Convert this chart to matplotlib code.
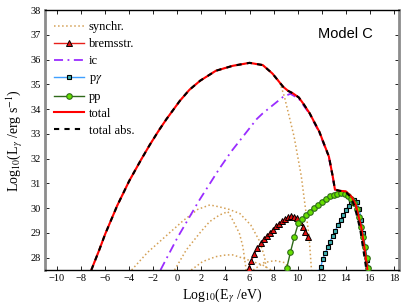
import matplotlib
matplotlib.use("Agg")
import matplotlib.pyplot as plt

# ---------------- data ----------------
total_x = [-7.15, -6.5, -6.0, -5.0, -4.0, -3.0, -2.3, -1.5, -0.9, 0.2, 1.0, 1.9, 3.2, 4.6, 6.0,
           7.1, 7.9, 8.3, 8.8, 9.2, 9.6, 10.1, 10.5, 11.0, 11.8, 12.6, 12.95, 13.1, 13.5, 14.0,
           14.5, 14.85, 15.3, 15.55, 15.8]
total_y = [27.5, 28.3, 28.95, 30.1, 31.1, 31.97, 32.55, 33.17, 33.6, 34.33, 34.78, 35.15, 35.55, 35.75, 35.87,
           35.78, 35.44, 35.2, 34.9, 34.74, 34.64, 34.47, 34.2, 33.83, 33.09, 32.08, 31.2, 30.75, 30.7, 30.68,
           30.45, 30.1, 29.2, 28.4, 27.5]

totabs_x = [-7.15, -6.5, -6.0, -5.0, -4.0, -3.0, -2.3, -1.5, -0.9, 0.2, 1.0, 1.9, 3.2, 4.6, 6.0,
            7.1, 7.9, 8.3, 8.8, 9.2, 9.6, 10.1, 10.5, 11.0, 11.8, 12.6, 12.95, 13.1, 13.5, 14.0,
            14.4, 14.75, 15.2, 15.45, 15.72]
totabs_y = [27.5, 28.3, 28.95, 30.1, 31.1, 31.97, 32.55, 33.17, 33.6, 34.33, 34.78, 35.15, 35.55, 35.75, 35.87,
            35.78, 35.44, 35.2, 34.9, 34.74, 34.64, 34.47, 34.2, 33.83, 33.09, 32.08, 31.2, 30.75, 30.7, 30.66,
            30.45, 30.05, 29.15, 28.35, 27.5]

# synchrotron components
syn1_x = [-7.15, -6.0, -5.0, -4.0, -3.0, -2.3, -0.9, 0.2, 1.0, 1.9, 3.2, 4.6, 6.0, 7.1, 7.9,
          8.5, 8.9, 9.3, 9.7, 10.0, 10.3, 10.7, 10.95, 11.15]
syn1_y = [27.5, 28.95, 30.1, 31.1, 31.97, 32.55, 33.6, 34.33, 34.78, 35.15, 35.55, 35.75, 35.87, 35.78, 35.44,
          35.1, 34.5, 33.7, 32.9, 32.1, 31.3, 29.8, 28.85, 27.5]
syn2_x = [-3.8, -2.5, -1.0, 0.5, 1.7, 2.7, 3.5, 4.3, 5.2, 6.1, 6.8, 7.25, 7.4]
syn2_y = [27.5, 28.2, 28.85, 29.5, 29.95, 30.13, 30.05, 29.95, 29.78, 29.32, 28.7, 28.04, 27.5]
syn3_x = [-0.23, 0.74, 1.84, 2.67, 3.5, 4.2, 4.6, 5.16, 5.45, 5.72]
syn3_y = [27.5, 28.31, 28.98, 29.45, 29.72, 29.86, 29.52, 28.98, 28.44, 27.5]
syn4_x = [1.15, 2.1, 3.2, 4.06, 4.6, 5.44, 6.27, 7.1, 7.8]
syn4_y = [27.5, 27.84, 28.04, 28.11, 28.11, 27.98, 27.84, 27.7, 27.5]
syn5_x = [6.3, 7.2, 8.1, 8.9, 9.5]
syn5_y = [27.5, 27.8, 27.88, 27.8, 27.5]

# inverse Compton
ic_x = [-1.4, 0.0, 1.8, 3.5, 4.5, 6.6, 7.1, 8.8, 9.4, 10.1, 11.0, 11.8, 12.6, 12.95, 13.1]
ic_y = [27.5, 28.8, 30.3, 31.6, 32.3, 33.6, 33.83, 34.5, 34.62, 34.42, 33.8, 33.05, 32.05, 31.15, 30.7]

# bremsstrahlung
brem_x = [5.93, 6.15, 6.4, 6.65, 6.95, 7.2, 7.45, 7.7, 7.95, 8.2, 8.45, 8.7, 8.95, 9.2, 9.45,
          9.7, 9.95, 10.2, 10.45, 10.65, 10.83]
brem_y = [27.6, 27.85, 28.15, 28.37, 28.58, 28.75, 28.88, 29.0, 29.13, 29.26, 29.37, 29.48, 29.57, 29.63, 29.67,
          29.66, 29.6, 29.45, 29.25, 29.05, 28.82]

# p-gamma
pg_x = [11.78, 11.94, 12.08, 12.3, 12.5, 12.69, 12.91, 13.13, 13.35, 13.57, 13.8, 14.02, 14.24, 14.46,
        14.68, 14.9, 15.12, 15.29, 15.45, 15.62, 15.79, 15.87]
pg_y = [27.5, 27.64, 27.94, 28.18, 28.42, 28.65, 28.88, 29.09, 29.32, 29.52, 29.72, 29.92, 30.1, 30.25,
        30.33, 30.25, 29.95, 29.52, 28.98, 28.44, 27.9, 27.57]

# p-p
pp_x = [9.09, 9.4, 9.73, 10.06, 10.36, 10.69, 11.02, 11.35, 11.68, 12.01, 12.34, 12.67, 13.0, 13.3,
        13.6, 13.9, 14.2, 14.45, 14.7, 14.92, 15.12, 15.28, 15.45, 15.6, 15.74, 15.84]
pp_y = [27.57, 28.22, 28.85, 29.39, 29.55, 29.72, 29.86, 30.0, 30.13, 30.26, 30.38, 30.47, 30.54, 30.58,
        30.6, 30.58, 30.5, 30.38, 30.2, 29.98, 29.66, 29.25, 28.85, 28.44, 27.97, 27.6]

xticks = list(range(-10, 19, 2))
yticks = list(range(28, 39))

# ---------------- plot ----------------
plt.rcParams['font.family'] = ['Liberation Serif', 'DejaVu Serif']
plt.rcParams['mathtext.fontset'] = 'stix'

fig = plt.figure(figsize=(4.07, 3.07), dpi=100)
ax = fig.add_axes([0.1106, 0.1205, 0.869, 0.8465])

syn_col = '#d4a055'
ax.plot(syn1_x, syn1_y, ls=':', color=syn_col, lw=1.1, label='synchr.', zorder=1)
for sx, sy in [(syn2_x, syn2_y), (syn3_x, syn3_y), (syn4_x, syn4_y), (syn5_x, syn5_y)]:
    ax.plot(sx, sy, ls=':', color=syn_col, lw=1.1, zorder=1)

ax.plot(brem_x, brem_y, color='#e8201a', lw=1.0, marker='^', ms=5,
        mfc='#e01010', mec='black', mew=0.7, label='bremsstr.', zorder=3)
ax.plot(ic_x, ic_y, color='#9a2cff', lw=1.3, ls=(0, (5, 2.5, 1, 2.5)), label='ic', zorder=2)
ax.plot(pg_x, pg_y, color='#3fa0ff', lw=1.0, marker='s', ms=3.5, markevery=list(range(1, len(pg_x))),
        mfc='#40b0b0', mec='black', mew=0.8, label=r'p$\gamma$', zorder=3)
ax.plot(pp_x, pp_y, color='#2f6a1a', lw=1.0, marker='o', ms=4,
        mfc='#66e000', mec='#2f6a1a', mew=0.8, label='pp', zorder=3)
ax.plot(total_x, total_y, color='red', lw=1.5, label='total', zorder=4)
ax.plot(totabs_x, totabs_y, color='black', lw=1.5, ls=(0, (2.5, 2.5)), label='total abs.', zorder=5)

ax.set_xlim(-11.0, 18.4)
ax.set_ylim(27.5, 38)
ax.set_xticks(xticks)
ax.set_xticklabels(['\u2212%d' % -t if t < 0 else str(t) for t in xticks])
ax.set_yticks(yticks)
ax.tick_params(direction='in', top=True, right=True, labelsize=7.5, length=3, width=0.6,
               colors='black', pad=3)
for s in ['top', 'bottom']:
    ax.spines[s].set_linewidth(1.0)
    ax.spines[s].set_color('black')
for s in ['left', 'right']:
    ax.spines[s].set_linewidth(2.0)
    ax.spines[s].set_color('#8c8c8c')

ax.set_xlabel(r'Log$_{10}$(E$_\gamma$ /eV)', fontsize=10, labelpad=2)
ax.set_ylabel(r'Log$_{10}$(L$_\gamma$ /erg s$^{-1}$)', fontsize=10, labelpad=4)

ax.text(0.848, 0.908, 'Model C', transform=ax.transAxes, ha='center', va='center',
        fontsize=10.5, family='Liberation Sans')

leg = ax.legend(loc='upper left', bbox_to_anchor=(0.0, 0.99), frameon=False, fontsize=9,
                handlelength=2.4, handletextpad=0.4, labelspacing=0.39, borderaxespad=0.3)

fig.savefig('out.png', dpi=100)
